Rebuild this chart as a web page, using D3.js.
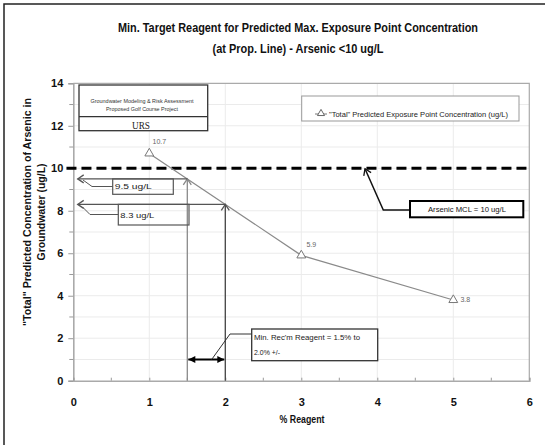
<!DOCTYPE html>
<html><head><meta charset="utf-8">
<script src="https://cdn.jsdelivr.net/npm/d3@7"></script>
<style>body{margin:0;background:#fff}</style>
</head><body><svg id="c" width="545" height="445"></svg>
<script>
// ---- data ----
const reagent = [1, 3, 5];
const concentration = [10.7, 5.9, 3.8];
const pointLabels = ["10.7", "5.9", "3.8"];
const xTicks = [0, 1, 2, 3, 4, 5, 6];
const yTicks = [0, 2, 4, 6, 8, 10, 12, 14];
const mcl = 10;
const targetConc = [9.5, 8.3];
const targetReagent = [1.5, 2.0];
const targetLabels = ["9.5 ug/L", "8.3 ug/L"];
const rangeArrowY = 1;
const titleLines = ["Min. Target Reagent for Predicted Max. Exposure Point Concentration", "(at Prop. Line) - Arsenic <10 ug/L"];
const yTitleLines = ["\"Total\" Predicted Concentration of Arsenic in", "Groundwater (ug/L)"];
const xTitle = "% Reagent";
const legendLabel = "\"Total\" Predicted Exposure Point Concentration (ug/L)";
const mclLabel = "Arsenic MCL = 10 ug/L";
const rangeLabel = ["Min. Rec'm Reagent = 1.5%  to", "2.0% +/-"];
const projectLabel = ["Groundwater Modeling & Risk Assessment", "Proposed Golf Course Project", "URS"];

// ---- setup ----
const svg = d3.select("#c");
const x = d3.scaleLinear().domain([0, 6]).range([73.3, 529.3]);
const y = d3.scaleLinear().domain([0, 14]).range([380.7, 83.3]);
const SANS = "'Liberation Sans', Arial, sans-serif";
const NARROW = "'Liberation Sans Narrow', 'Liberation Sans', Arial, sans-serif";

const defs = svg.append("defs");
function openMarker(id, color) {
  defs.append("marker").attr("id", id).attr("viewBox", "-8 -5 10 10")
    .attr("refX", 0).attr("refY", 0).attr("markerWidth", 10).attr("markerHeight", 10)
    .attr("markerUnits", "userSpaceOnUse").attr("orient", "auto")
    .append("path").attr("d", "M-6,-4L0,0L-6,4").attr("fill", "none")
    .attr("stroke", color).attr("stroke-width", 1.3);
}
openMarker("openGray", "#888");
openMarker("openDark", "#555");
openMarker("openBlack", "#111");
defs.append("marker").attr("id", "solid").attr("viewBox", "-8 -5 10 10")
  .attr("refX", 0).attr("refY", 0).attr("markerWidth", 10).attr("markerHeight", 10)
  .attr("markerUnits", "userSpaceOnUse").attr("orient", "auto-start-reverse")
  .append("path").attr("d", "M-7,-3.5L0,0L-7,3.5Z").attr("fill", "#000");

// outer frame (top & left visible)
svg.append("path").attr("d", "M4,445V4H545").attr("fill", "none").attr("stroke", "#222").attr("stroke-width", 1.5);

// titles
titleLines.forEach((t, i) => {
  svg.append("text").attr("x", 298).attr("y", 32 + i * 21).attr("text-anchor", "middle")
    .attr("font-family", SANS).attr("font-weight", "bold").attr("font-size", 12)
    .attr("textLength", i === 0 ? 360 : 171).attr("lengthAdjust", "spacingAndGlyphs")
    .attr("fill", "#111").text(t);
});

// gridlines
const grid = svg.append("g").attr("stroke", "#ebebeb").attr("stroke-width", 1);
d3.range(1, 14).forEach(v => grid.append("line").attr("x1", x(0)).attr("x2", x(6)).attr("y1", y(v)).attr("y2", y(v)));
d3.range(1, 6).forEach(v => grid.append("line").attr("x1", x(v)).attr("x2", x(v)).attr("y1", y(0)).attr("y2", y(14)));

// plot border top/right
svg.append("path").attr("d", `M${x(0)},${y(14)}H${x(6)}V${y(0)}`).attr("fill", "none").attr("stroke", "#aaa").attr("stroke-width", 1.2);

// axes
const yAxis = d3.axisLeft(y).tickValues(yTicks).tickSize(5).tickPadding(5).tickFormat(d3.format("d"));
const gy = svg.append("g").attr("transform", `translate(${x(0)},0)`).call(yAxis);
const xAxis = d3.axisBottom(x).tickValues(xTicks).tickSize(-3).tickPadding(18).tickFormat(d3.format("d"));
const gx = svg.append("g").attr("transform", `translate(0,${y(0)})`).call(xAxis);
[gx, gy].forEach(g => {
  g.select(".domain").attr("stroke", "#aaa").attr("stroke-width", 1.6);
  g.selectAll(".tick line").attr("stroke", "#999");
  g.selectAll("text").attr("font-family", SANS).attr("font-weight", "bold").attr("font-size", 11).attr("fill", "#111");
});
// minor ticks
d3.range(1, 14, 2).forEach(v => svg.append("line").attr("x1", x(0) - 4).attr("x2", x(0)).attr("y1", y(v)).attr("y2", y(v)).attr("stroke", "#999"));
d3.range(0.5, 6, 1).forEach(v => svg.append("line").attr("x1", x(v)).attr("x2", x(v)).attr("y1", y(0)).attr("y2", y(0) - 3).attr("stroke", "#999"));

// axis titles
svg.append("text").attr("x", 302).attr("y", 423).attr("text-anchor", "middle")
  .attr("font-family", SANS).attr("font-weight", "bold").attr("font-size", 10)
  .attr("textLength", 45).attr("lengthAdjust", "spacingAndGlyphs").attr("fill", "#111").text(xTitle);
yTitleLines.forEach((t, i) => {
  svg.append("text").attr("transform", `translate(${27 + i * 14},212) rotate(-90)`).attr("dy", "0.35em")
    .attr("text-anchor", "middle").attr("font-family", SANS).attr("font-weight", "bold").attr("font-size", 11)
    .attr("textLength", i === 0 ? 228 : 97).attr("lengthAdjust", "spacingAndGlyphs").attr("fill", "#111").text(t);
});

// MCL dashed line
svg.append("line").attr("x1", x(-0.09)).attr("x2", x(5.98)).attr("y1", y(mcl)).attr("y2", y(mcl))
  .attr("stroke", "#000").attr("stroke-width", 3).attr("stroke-dasharray", "10,5");

// series
const pts = reagent.map((r, i) => [x(r), y(concentration[i])]);
svg.append("path").attr("d", d3.line()(pts)).attr("fill", "none").attr("stroke", "#8a8a8a").attr("stroke-width", 1.2);
const tri = d3.symbol(d3.symbolTriangle, 34);
svg.selectAll(".pt").data(pts).join("path").attr("transform", d => `translate(${d[0]},${d[1]})`)
  .attr("d", tri).attr("fill", "#fff").attr("stroke", "#777").attr("stroke-width", 1);
const labOff = [[10, -12], [10, -11], [12, 0]];
pointLabels.forEach((t, i) => {
  svg.append("text").attr("x", pts[i][0] + labOff[i][0]).attr("y", pts[i][1] + labOff[i][1]).attr("dy", "0.35em")
    .attr("text-anchor", "middle").attr("font-family", NARROW).attr("font-size", 7).attr("fill", "#666").text(t);
});

// target arrows
const vColors = ["#8a8a8a", "#444"];
const vMarks = ["openGray", "openDark"];
targetConc.forEach((c, i) => {
  const xr = x(targetReagent[i]), yc = y(c);
  svg.append("line").attr("x1", xr).attr("x2", xr).attr("y1", y(0)).attr("y2", yc)
    .attr("stroke", vColors[i]).attr("stroke-width", 1.3).attr("marker-end", `url(#${vMarks[i]})`);
  svg.append("line").attr("x1", xr).attr("x2", 77.7).attr("y1", yc).attr("y2", yc)
    .attr("stroke", "#555").attr("stroke-width", 1.2).attr("marker-end", "url(#openDark)");
});
// target callout boxes
const tBoxes = [{l: 112.7, r: 173.3, b: 194.3, ty: 188.5, tl: 37, con: [[83, 180], [92, 186.5]]},
                {l: 118.3, r: 189, b: 225, ty: 217.5, tl: 34, con: [[83, 207.5], [90, 214.5]]}];
tBoxes.forEach((bx, i) => {
  const top = y(targetConc[i]);
  svg.append("rect").attr("x", bx.l).attr("y", top).attr("width", bx.r - bx.l).attr("height", bx.b - top)
    .attr("fill", "none").attr("stroke", "#555").attr("stroke-width", 1.2);
  svg.append("path").attr("d", d3.line()([...bx.con, [bx.l, bx.con[1][1]]])).attr("fill", "none").attr("stroke", "#555").attr("stroke-width", 1);
  svg.append("text").attr("x", bx.l + 2).attr("y", bx.ty).attr("font-family", NARROW).attr("font-size", 7.5)
    .attr("textLength", bx.tl).attr("lengthAdjust", "spacingAndGlyphs").attr("fill", "#222").text(targetLabels[i]);
});

// range double arrow
svg.append("line").attr("x1", x(targetReagent[0]) + 1).attr("x2", x(targetReagent[1]) - 1)
  .attr("y1", y(rangeArrowY)).attr("y2", y(rangeArrowY)).attr("stroke", "#000").attr("stroke-width", 2)
  .attr("marker-start", "url(#solid)").attr("marker-end", "url(#solid)");
svg.append("path").attr("d", d3.line()([[211.7, y(rangeArrowY)], [230, 334], [251.7, 334]]))
  .attr("fill", "none").attr("stroke", "#333").attr("stroke-width", 1);
svg.append("rect").attr("x", 251.7).attr("y", 329).attr("width", 126).attr("height", 31.7)
  .attr("fill", "#fff").attr("stroke", "#333").attr("stroke-width", 1.3);
rangeLabel.forEach((t, i) => {
  svg.append("text").attr("x", 254).attr("y", 339.5 + i * 15).attr("font-family", NARROW).attr("font-size", 7.5)
    .attr("textLength", i === 0 ? 106 : 26).attr("lengthAdjust", "spacingAndGlyphs").attr("fill", "#222").text(t);
});

// MCL callout
svg.append("path").attr("d", d3.line()([[410, 210], [383.3, 210], [365, y(mcl) + 0.5]]))
  .attr("fill", "none").attr("stroke", "#111").attr("stroke-width", 1.5).attr("marker-end", "url(#openBlack)");
svg.append("rect").attr("x", 410).attr("y", 201).attr("width", 113.3).attr("height", 16.3)
  .attr("fill", "#fff").attr("stroke", "#000").attr("stroke-width", 2);
svg.append("text").attr("x", 467).attr("y", 212).attr("text-anchor", "middle").attr("font-family", NARROW)
  .attr("font-size", 8).attr("textLength", 78).attr("lengthAdjust", "spacingAndGlyphs").attr("fill", "#111").text(mclLabel);

// project box
svg.append("rect").attr("x", 79).attr("y", 85).attr("width", 128.7).attr("height", 45.7)
  .attr("fill", "#fff").attr("stroke", "#333").attr("stroke-width", 1.3);
svg.append("line").attr("x1", 79).attr("x2", 207.7).attr("y1", 116.7).attr("y2", 116.7).attr("stroke", "#333").attr("stroke-width", 1.2);
svg.append("text").attr("x", 142).attr("y", 102.5).attr("text-anchor", "middle").attr("font-family", NARROW)
  .attr("font-size", 5.5).attr("textLength", 103).attr("lengthAdjust", "spacingAndGlyphs").attr("fill", "#333").text(projectLabel[0]);
svg.append("text").attr("x", 142).attr("y", 111).attr("text-anchor", "middle").attr("font-family", NARROW)
  .attr("font-size", 5.5).attr("textLength", 72).attr("lengthAdjust", "spacingAndGlyphs").attr("fill", "#333").text(projectLabel[1]);
svg.append("text").attr("x", 141).attr("y", 129).attr("text-anchor", "middle").attr("font-family", "'Liberation Serif', 'Times New Roman', serif")
  .attr("font-size", 9.5).attr("textLength", 18).attr("lengthAdjust", "spacingAndGlyphs").attr("fill", "#222").text(projectLabel[2]);

// legend
svg.append("rect").attr("x", 301.7).attr("y", 96).attr("width", 217.3).attr("height", 25)
  .attr("fill", "#fff").attr("stroke", "#999").attr("stroke-width", 1);
svg.append("line").attr("x1", 315).attr("x2", 327).attr("y1", 114).attr("y2", 114).attr("stroke", "#777");
svg.append("path").attr("transform", "translate(321,113.5)").attr("d", d3.symbol(d3.symbolTriangle, 22))
  .attr("fill", "#fff").attr("stroke", "#666");
svg.append("text").attr("x", 329).attr("y", 117).attr("font-family", NARROW).attr("font-size", 8)
  .attr("textLength", 179).attr("lengthAdjust", "spacingAndGlyphs").attr("fill", "#222").text(legendLabel);
</script></body></html>
